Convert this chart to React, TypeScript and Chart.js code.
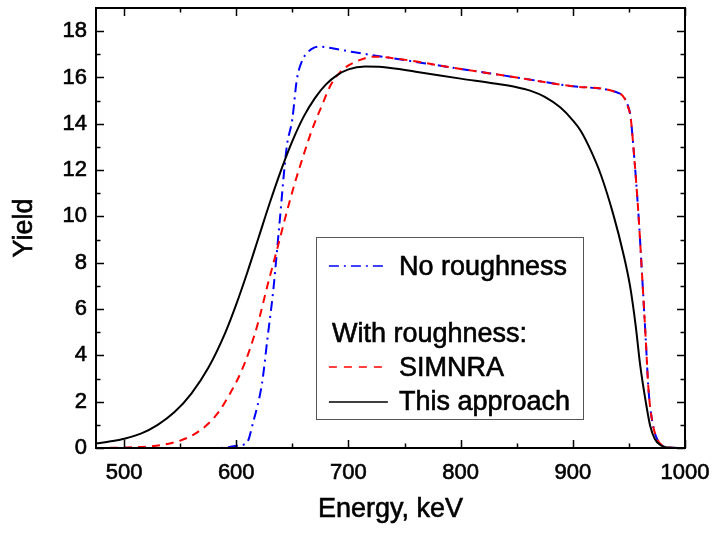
import React, { useEffect, useRef } from "react";
import { Chart, registerables } from "chart.js";

Chart.register(...registerables);

// ---- data ----
const energyNoRough = [475, 585, 601, 609.7, 615, 623, 628, 633, 638, 645, 650, 654, 659, 664, 669, 675, 681, 704, 750, 800, 850, 900, 942, 946, 949, 951.5, 954, 958.5, 962, 965, 967.5, 971, 975.5, 980, 985, 1000];
const yieldNoRough = [0, 0, 0.1, 0.25, 1.1, 2.8, 4.8, 6.8, 9.4, 13.0, 14.2, 15.9, 16.75, 17.1, 17.28, 17.33, 17.3, 17.1, 16.75, 16.37, 16.0, 15.62, 15.3, 15.12, 14.8, 14.3, 13.0, 10.1, 7.25, 4.7, 2.5, 1.1, 0.35, 0.1, 0.02, 0];

const energySimnra = [475, 500, 520, 535, 550, 562, 574, 585, 595, 604, 612, 620, 628, 636, 644, 652, 660, 668, 676, 684, 692, 700, 710, 722, 740, 800, 850, 900, 942, 946, 949, 951.5, 954, 958.5, 962, 965, 967.5, 971, 975.5, 980, 985, 1000];
const yieldSimnra = [0, 0.02, 0.06, 0.14, 0.32, 0.58, 1.0, 1.6, 2.4, 3.25, 4.25, 5.5, 7.05, 8.5, 10.0, 11.4, 12.65, 13.8, 14.75, 15.65, 16.2, 16.52, 16.75, 16.9, 16.83, 16.37, 16.0, 15.62, 15.3, 15.1, 14.75, 14.3, 13.0, 10.1, 7.25, 4.7, 2.5, 1.1, 0.35, 0.1, 0.02, 0];

const energyApproach = [475, 490, 500, 515, 530, 545, 560, 575, 590, 600, 610, 620, 630, 640, 650, 660, 670, 680, 690, 700, 715, 730, 760, 800, 830, 850, 862, 875, 889, 900, 907, 916, 925, 936, 945, 951, 956, 960, 965, 969, 973, 978, 983, 990, 1000];
const yieldApproach = [0.2, 0.3, 0.4, 0.62, 1.0, 1.55, 2.35, 3.45, 4.95, 6.2, 7.6, 9.1, 10.6, 12.0, 13.25, 14.3, 15.1, 15.7, 16.1, 16.35, 16.47, 16.45, 16.25, 15.95, 15.74, 15.58, 15.43, 15.16, 14.7, 14.15, 13.7, 12.85, 11.8, 10.1, 8.4, 7.0, 5.3, 3.6, 2.0, 0.95, 0.4, 0.13, 0.03, 0, 0];

const xMinorTicks = [550, 650, 750, 850, 950];
const yMinorTicks = [1, 3, 5, 7, 9, 11, 13, 15, 17];

const xTitle = "Energy, keV";
const yTitle = "Yield";
const legendLabels = ["No roughness", "With roughness:", "SIMNRA", "This approach"];

const FONT = "'Liberation Sans', Arial, sans-serif";
const TEXT_STROKE = 0.6;

function toPoints(xs: number[], ys: number[]) {
  return xs.map((x, i) => ({ x, y: ys[i] }));
}

function heavyText(ctx: CanvasRenderingContext2D, s: string, x: number, y: number) {
  ctx.fillText(s, x, y);
  ctx.strokeText(s, x, y);
}

const framePlugin = {
  id: "frameAndLegend",
  afterDraw(chart: any) {
    const { ctx, chartArea } = chart;
    const { left, right, top, bottom } = chartArea;
    const xs = chart.scales.x;
    const ys = chart.scales.y;
    ctx.save();
    ctx.strokeStyle = "#000";
    ctx.lineWidth = 1.5;
    ctx.setLineDash([]);
    const major = 8;
    const minor = 4.5;
    ctx.beginPath();
    xs.ticks.forEach((t: any) => {
      const px = Math.round(xs.getPixelForValue(t.value)) + 0.5;
      ctx.moveTo(px, bottom);
      ctx.lineTo(px, bottom - major);
      ctx.moveTo(px, top);
      ctx.lineTo(px, top + major);
    });
    xMinorTicks.forEach((v) => {
      const px = Math.round(xs.getPixelForValue(v)) + 0.5;
      ctx.moveTo(px, bottom);
      ctx.lineTo(px, bottom - minor);
      ctx.moveTo(px, top);
      ctx.lineTo(px, top + minor);
    });
    ys.ticks.forEach((t: any) => {
      const py = Math.round(ys.getPixelForValue(t.value)) + 0.5;
      ctx.moveTo(left, py);
      ctx.lineTo(left + major, py);
      ctx.moveTo(right, py);
      ctx.lineTo(right - major, py);
    });
    yMinorTicks.forEach((v) => {
      const py = Math.round(ys.getPixelForValue(v)) + 0.5;
      ctx.moveTo(left, py);
      ctx.lineTo(left + minor, py);
      ctx.moveTo(right, py);
      ctx.lineTo(right - minor, py);
    });
    ctx.stroke();

    ctx.lineWidth = 2;
    ctx.strokeRect(left, top, right - left, bottom - top);

    // axis titles
    ctx.font = `27px ${FONT}`;
    ctx.fillStyle = "#000";
    ctx.strokeStyle = "#000";
    ctx.lineWidth = TEXT_STROKE;
    ctx.textAlign = "center";
    ctx.textBaseline = "middle";
    heavyText(ctx, xTitle, (left + right) / 2, bottom + 62);
    ctx.save();
    ctx.translate(25, (top + bottom) / 2);
    ctx.rotate(-Math.PI / 2);
    heavyText(ctx, yTitle, 0, 0);
    ctx.restore();

    // legend box
    const bx = xs.getPixelForValue(671);
    const bx2 = xs.getPixelForValue(909.4);
    const by = ys.getPixelForValue(9.11);
    const by2 = ys.getPixelForValue(1.25);
    ctx.fillStyle = "#fff";
    ctx.fillRect(bx, by, bx2 - bx, by2 - by);
    ctx.lineWidth = 1;
    ctx.strokeStyle = "#555";
    ctx.strokeRect(Math.round(bx) + 0.5, Math.round(by) + 0.5, Math.round(bx2 - bx), Math.round(by2 - by));

    const lx1 = bx + 13;
    const lx2 = bx + 72;
    const tx = bx + 83;
    const rows = [by + 31, by + 98, by + 132, by + 166];

    const sample = (y: number, color: string, dash: number[], w: number) => {
      ctx.beginPath();
      ctx.strokeStyle = color;
      ctx.lineWidth = w;
      ctx.setLineDash(dash);
      ctx.moveTo(lx1, y);
      ctx.lineTo(lx2, y);
      ctx.stroke();
      ctx.setLineDash([]);
    };
    sample(rows[0] - 2, "#0000ff", [10, 5, 2, 5], 1.5);
    sample(rows[2] - 2, "#ff0000", [8, 7], 1.5);
    sample(rows[3] - 1, "#000000", [], 1.5);

    ctx.font = `27px ${FONT}`;
    ctx.textBaseline = "middle";
    ctx.textAlign = "left";
    ctx.fillStyle = "#000";
    ctx.strokeStyle = "#000";
    ctx.lineWidth = TEXT_STROKE;
    heavyText(ctx, legendLabels[0], tx, rows[0]);
    heavyText(ctx, legendLabels[1], lx1 + 3, rows[1]);
    heavyText(ctx, legendLabels[2], tx, rows[2]);
    heavyText(ctx, legendLabels[3], tx, rows[3]);
    ctx.restore();
  },
};

export default function App() {
  const ref = useRef<HTMLCanvasElement>(null);
  useEffect(() => {
    document.body.style.margin = "0";
    const chart = new Chart(ref.current!, {
      type: "line",
      data: {
        datasets: [
          {
            label: "This approach",
            data: toPoints(energyApproach, yieldApproach),
            borderColor: "#000000",
            borderWidth: 2,
            pointRadius: 0,
            cubicInterpolationMode: "monotone",
          },
          {
            label: "SIMNRA",
            data: toPoints(energySimnra, yieldSimnra),
            borderColor: "#ff0000",
            borderWidth: 2,
            borderDash: [8, 6],
            pointRadius: 0,
            cubicInterpolationMode: "monotone",
          },
          {
            label: "No roughness",
            data: toPoints(energyNoRough, yieldNoRough),
            borderColor: "#0000ff",
            borderWidth: 2,
            borderDash: [10, 5, 2, 5],
            pointRadius: 0,
            cubicInterpolationMode: "monotone",
          },
        ],
      },
      options: {
        animation: false,
        responsive: false,
        maintainAspectRatio: false,
        layout: { padding: { left: 0, top: 8, right: 30, bottom: 0 } },
        plugins: { legend: { display: false }, tooltip: { enabled: false } },
        scales: {
          x: {
            type: "linear",
            min: 475,
            max: 1000,
            grid: { display: false, drawTicks: false },
            border: { display: false },
            ticks: {
              stepSize: 100,
              includeBounds: false,
              padding: 12,
              color: "#000",
              textStrokeColor: "#000",
              textStrokeWidth: TEXT_STROKE,
              font: { family: FONT, size: 22 },
              maxRotation: 0,
              callback: (v: any) => String(v),
            },
            afterFit: (s: any) => {
              s.height = 88;
              s.paddingLeft = 0;
              s.paddingRight = 0;
            },
          },
          y: {
            type: "linear",
            min: 0,
            max: 19,
            grid: { display: false, drawTicks: false },
            border: { display: false },
            ticks: {
              stepSize: 2,
              includeBounds: false,
              padding: 9,
              color: "#000",
              textStrokeColor: "#000",
              textStrokeWidth: TEXT_STROKE,
              font: { family: FONT, size: 22 },
            },
            afterFit: (s: any) => {
              s.width = 96;
              s.paddingTop = 0;
              s.paddingBottom = 0;
            },
          },
        },
      },
      plugins: [framePlugin],
    });
    return () => chart.destroy();
  }, []);
  return (
    <div style={{ width: 715, height: 536, position: "relative" }}>
      <canvas ref={ref} width={715} height={536} style={{ display: "block" }} />
    </div>
  );
}
